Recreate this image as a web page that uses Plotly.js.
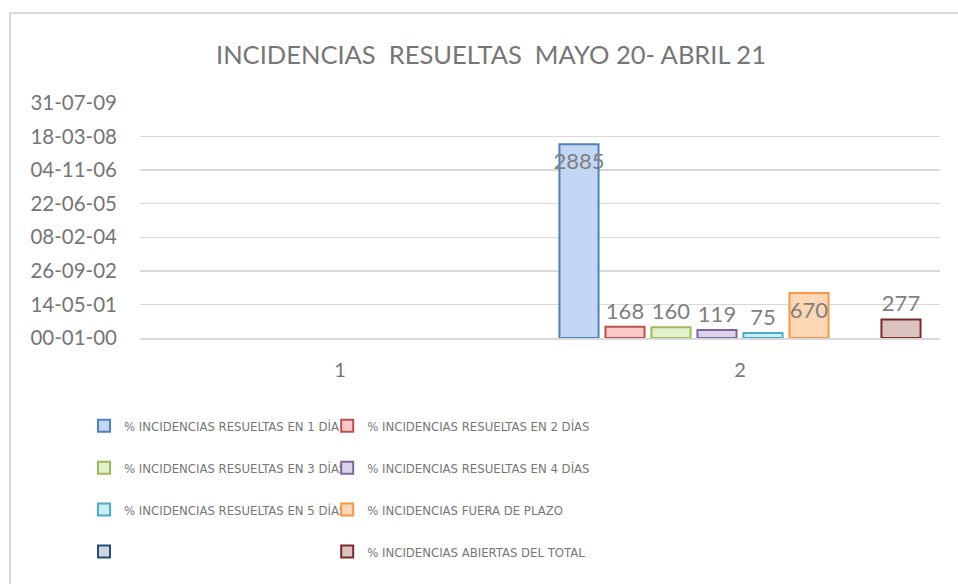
<!DOCTYPE html>
<html>
<head>
<meta charset="utf-8">
<script src="https://cdn.plot.ly/plotly-3.0.1.min.js"></script>
<style>html,body{margin:0;padding:0;background:#fff;}#chart{width:958px;height:584px;}</style>
</head>
<body>
<div id="chart"></div>
<script>
// ---- data ----
var categories = ['1', '2'];
var seriesNames = [
  '% INCIDENCIAS RESUELTAS EN 1 DÍA',
  '% INCIDENCIAS RESUELTAS EN 2 DÍAS',
  '% INCIDENCIAS RESUELTAS EN 3 DÍAS',
  '% INCIDENCIAS RESUELTAS EN 4 DÍAS',
  '% INCIDENCIAS RESUELTAS EN 5 DÍAS',
  '% INCIDENCIAS FUERA DE PLAZO',
  ' ',
  '% INCIDENCIAS ABIERTAS DEL TOTAL'
];
// values for category "1" (empty) and category "2"
var valuesCat1 = [null, null, null, null, null, null, null, null];
var valuesCat2 = [2885, 168, 160, 119, 75, 670, null, 277];
var yTickVals = [0, 500, 1000, 1500, 2000, 2500, 3000, 3500];
var yTickText = ['00-01-00', '14-05-01', '26-09-02', '08-02-04', '22-06-05', '04-11-06', '18-03-08', '31-07-09'];
var chartTitle = 'INCIDENCIAS  RESUELTAS  MAYO 20- ABRIL 21';

// ---- styles ----
var lineColors = ['#4f81bd', '#c0504d', '#9bbb59', '#8064a2', '#4bacc6', '#f79646', '#2c4d75', '#772c2a'];
var fillColors = ['#c3d7f5', '#f9c9c8', '#e4f1cf', '#dcd3ea', '#cdeef7', '#fdd7b6', '#cdd5e2', '#dcc2c1'];
var labelPos = ['inside', 'outside', 'outside', 'outside', 'outside', 'inside', 'outside', 'outside'];
var textGray = '#767676';
var baseFont = 'Lato, "Open Sans", "Liberation Sans", sans-serif';
var legendFont = '"Liberation Sans Narrow", "DejaVu Sans Condensed", "Roboto Condensed", Lato, sans-serif';

var traces = seriesNames.map(function (name, i) {
  var vals = [valuesCat1[i], valuesCat2[i]];
  return {
    type: 'bar',
    name: name,
    x: categories,
    y: vals,
    text: vals.map(function (v) { return v == null ? '' : String(v); }),
    textposition: labelPos[i],
    insidetextanchor: 'end',
    textangle: 0,
    constraintext: 'none',
    cliponaxis: false,
    textfont: {family: baseFont, size: 22, color: '#7f7f7f'},
    marker: {color: fillColors[i], line: {color: lineColors[i], width: 2}},
    legend: (i % 2 === 0) ? 'legend' : 'legend2',
    legendgroup: 'g' + i,
    hoverinfo: 'skip'
  };
});

var legendCommon = {
  orientation: 'v',
  yanchor: 'top',
  y: -0.31,
  xanchor: 'left',
  traceorder: 'grouped',
  tracegroupgap: 22,
  bgcolor: 'rgba(0,0,0,0)',
  font: {family: legendFont, size: 13, color: textGray}
};

var layout = {
  width: 958,
  height: 584,
  paper_bgcolor: '#ffffff',
  plot_bgcolor: '#ffffff',
  margin: {l: 140, r: 18, t: 103, b: 246},
  barmode: 'group',
  bargap: 0.08,
  bargroupgap: 0.15,
  title: {
    text: chartTitle,
    font: {family: baseFont, size: 25.5, color: textGray},
    xref: 'container', x: 0.5125, xanchor: 'center',
    yref: 'container', y: 0.906, yanchor: 'middle'
  },
  xaxis: {
    type: 'category',
    range: [-0.5, 1.5],
    showgrid: false,
    showline: true,
    linecolor: '#d9d9d9',
    linewidth: 2,
    ticks: '',
    ticklabelstandoff: 13,
    tickfont: {family: baseFont, size: 20, color: textGray},
    fixedrange: true
  },
  yaxis: {
    range: [0, 3500],
    tickvals: yTickVals,
    ticktext: yTickText,
    showgrid: true,
    gridcolor: '#d9d9d9',
    gridwidth: 1.5,
    zeroline: false,
    showline: false,
    ticks: '',
    ticklabelstandoff: 22,
    tickfont: {family: baseFont, size: 20.5, color: textGray},
    fixedrange: true
  },
  showlegend: true,
  legend: Object.assign({}, legendCommon, {x: -0.07}),
  legend2: Object.assign({}, legendCommon, {x: 0.234}),
  shapes: [{
    type: 'rect', xref: 'paper', yref: 'paper',
    x0: -0.1625, x1: 1.2, y0: -1.3, y1: 1.383,
    line: {color: '#d9d9d9', width: 2},
    fillcolor: 'rgba(0,0,0,0)',
    layer: 'below'
  }]
};

Plotly.newPlot('chart', traces, layout, {displayModeBar: false, staticPlot: true});
</script>
</body>
</html>
